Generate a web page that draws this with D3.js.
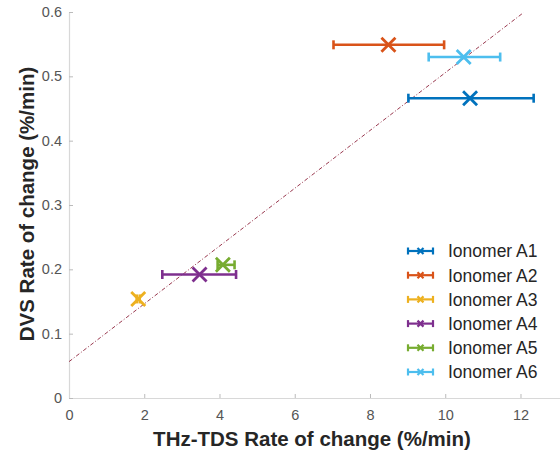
<!DOCTYPE html>
<html>
<head>
<meta charset="utf-8">
<script src="https://cdn.jsdelivr.net/npm/d3@7"></script>
<style>
  html, body { margin: 0; padding: 0; background: #fff; }
  #chart { width: 560px; height: 454px; }
  text { font-family: "Liberation Sans", Arial, sans-serif; }
</style>
</head>
<body>
<div id="chart"></div>
<script>
const names = ["Ionomer A1", "Ionomer A2", "Ionomer A3", "Ionomer A4", "Ionomer A5", "Ionomer A6"];
const colors = ["#0072BD", "#D95319", "#EDB120", "#7E2F8E", "#77AC30", "#4DBEEE"];
const thzRate = [10.66, 8.49, 1.84, 3.47, 4.09, 10.49];
const thzLow = [9.02, 7.03, 1.80, 2.48, 3.95, 9.56];
const thzHigh = [12.35, 9.97, 1.88, 4.44, 4.40, 11.46];
const dvsRate = [0.466, 0.549, 0.154, 0.192, 0.207, 0.530];
const fitLine = [[0, 0.0565], [12.08, 0.599]];
const xTicks = [0, 2, 4, 6, 8, 10, 12];
const yTicks = [0, 0.1, 0.2, 0.3, 0.4, 0.5, 0.6];

const width = 560, height = 454;
const margin = { top: 12, right: 0, bottom: 56, left: 69 };

const svg = d3.select("#chart").append("svg")
  .attr("width", width).attr("height", height);

const x = d3.scaleLinear().domain([0, 13.05]).range([margin.left, width - margin.right]);
const y = d3.scaleLinear().domain([0, 0.6]).range([height - margin.bottom, margin.top]);

// axes
const xAxis = svg.append("g")
  .attr("transform", `translate(0,${y(0)})`)
  .call(d3.axisBottom(x).tickValues(xTicks).tickSizeInner(-4).tickSizeOuter(0).tickPadding(12));
const yAxis = svg.append("g")
  .attr("transform", `translate(${x(0)},0)`)
  .call(d3.axisLeft(y).tickValues(yTicks).tickFormat(d => d === 0 ? "0" : d3.format(".1f")(d)).tickSizeInner(-4).tickSizeOuter(0).tickPadding(7));

[xAxis, yAxis].forEach(a => {
  a.select(".domain").attr("stroke", "#d8d8d8").attr("stroke-width", 1.2);
  a.selectAll(".tick line").attr("stroke", "#bbb").attr("stroke-width", 1);
  a.selectAll(".tick text").attr("fill", "#555").attr("font-size", 14.5)
    .attr("font-family", "'Liberation Sans', Arial, sans-serif");
});

svg.append("text")
  .attr("x", 312).attr("y", 446)
  .attr("text-anchor", "middle")
  .attr("font-size", 20.5).attr("font-weight", "bold").attr("fill", "#262626")
  .text("THz-TDS Rate of change (%/min)");

svg.append("text")
  .attr("transform", "translate(34,204) rotate(-90)")
  .attr("text-anchor", "middle")
  .attr("font-size", 20.5).attr("font-weight", "bold").attr("fill", "#262626")
  .text("DVS Rate of change (%/min)");

// fit line
svg.append("line")
  .attr("x1", x(fitLine[0][0])).attr("y1", y(fitLine[0][1]))
  .attr("x2", x(fitLine[1][0])).attr("y2", y(fitLine[1][1]))
  .attr("stroke", "#9a3a50").attr("stroke-width", 1)
  .attr("stroke-dasharray", "4,2,1,2");

// points with horizontal error bars
const pts = svg.append("g");
names.forEach((n, i) => {
  const g = pts.append("g").attr("stroke", colors[i]).attr("stroke-width", 2.6).attr("fill", "none");
  const cy = y(dvsRate[i]);
  g.append("line").attr("x1", x(thzLow[i])).attr("x2", x(thzHigh[i])).attr("y1", cy).attr("y2", cy);
  [thzLow[i], thzHigh[i]].forEach(v => {
    g.append("line").attr("x1", x(v)).attr("x2", x(v)).attr("y1", cy - 4.5).attr("y2", cy + 4.5);
  });
  const cx = x(thzRate[i]), s = 7;
  g.append("path").attr("d", `M${cx - s},${cy - s}L${cx + s},${cy + s}M${cx - s},${cy + s}L${cx + s},${cy - s}`)
    .attr("stroke-width", 2.8);
});

// legend
const legend = svg.append("g").attr("transform", "translate(408,251)");
names.forEach((n, i) => {
  const row = legend.append("g").attr("transform", `translate(0,${i * 24.2})`);
  const g = row.append("g").attr("stroke", colors[i]).attr("stroke-width", 2.2).attr("fill", "none");
  g.append("line").attr("x1", 0).attr("x2", 25).attr("y1", 0).attr("y2", 0);
  g.append("line").attr("x1", 0).attr("x2", 0).attr("y1", -3.5).attr("y2", 3.5);
  g.append("line").attr("x1", 25).attr("x2", 25).attr("y1", -3.5).attr("y2", 3.5);
  g.append("path").attr("d", "M9.5,-3L15.5,3M9.5,3L15.5,-3");
  row.append("text").attr("x", 40).attr("y", 0).attr("dy", "0.36em")
    .attr("font-size", 17.5).attr("fill", "#262626").text(n);
});
</script>
</body>
</html>
